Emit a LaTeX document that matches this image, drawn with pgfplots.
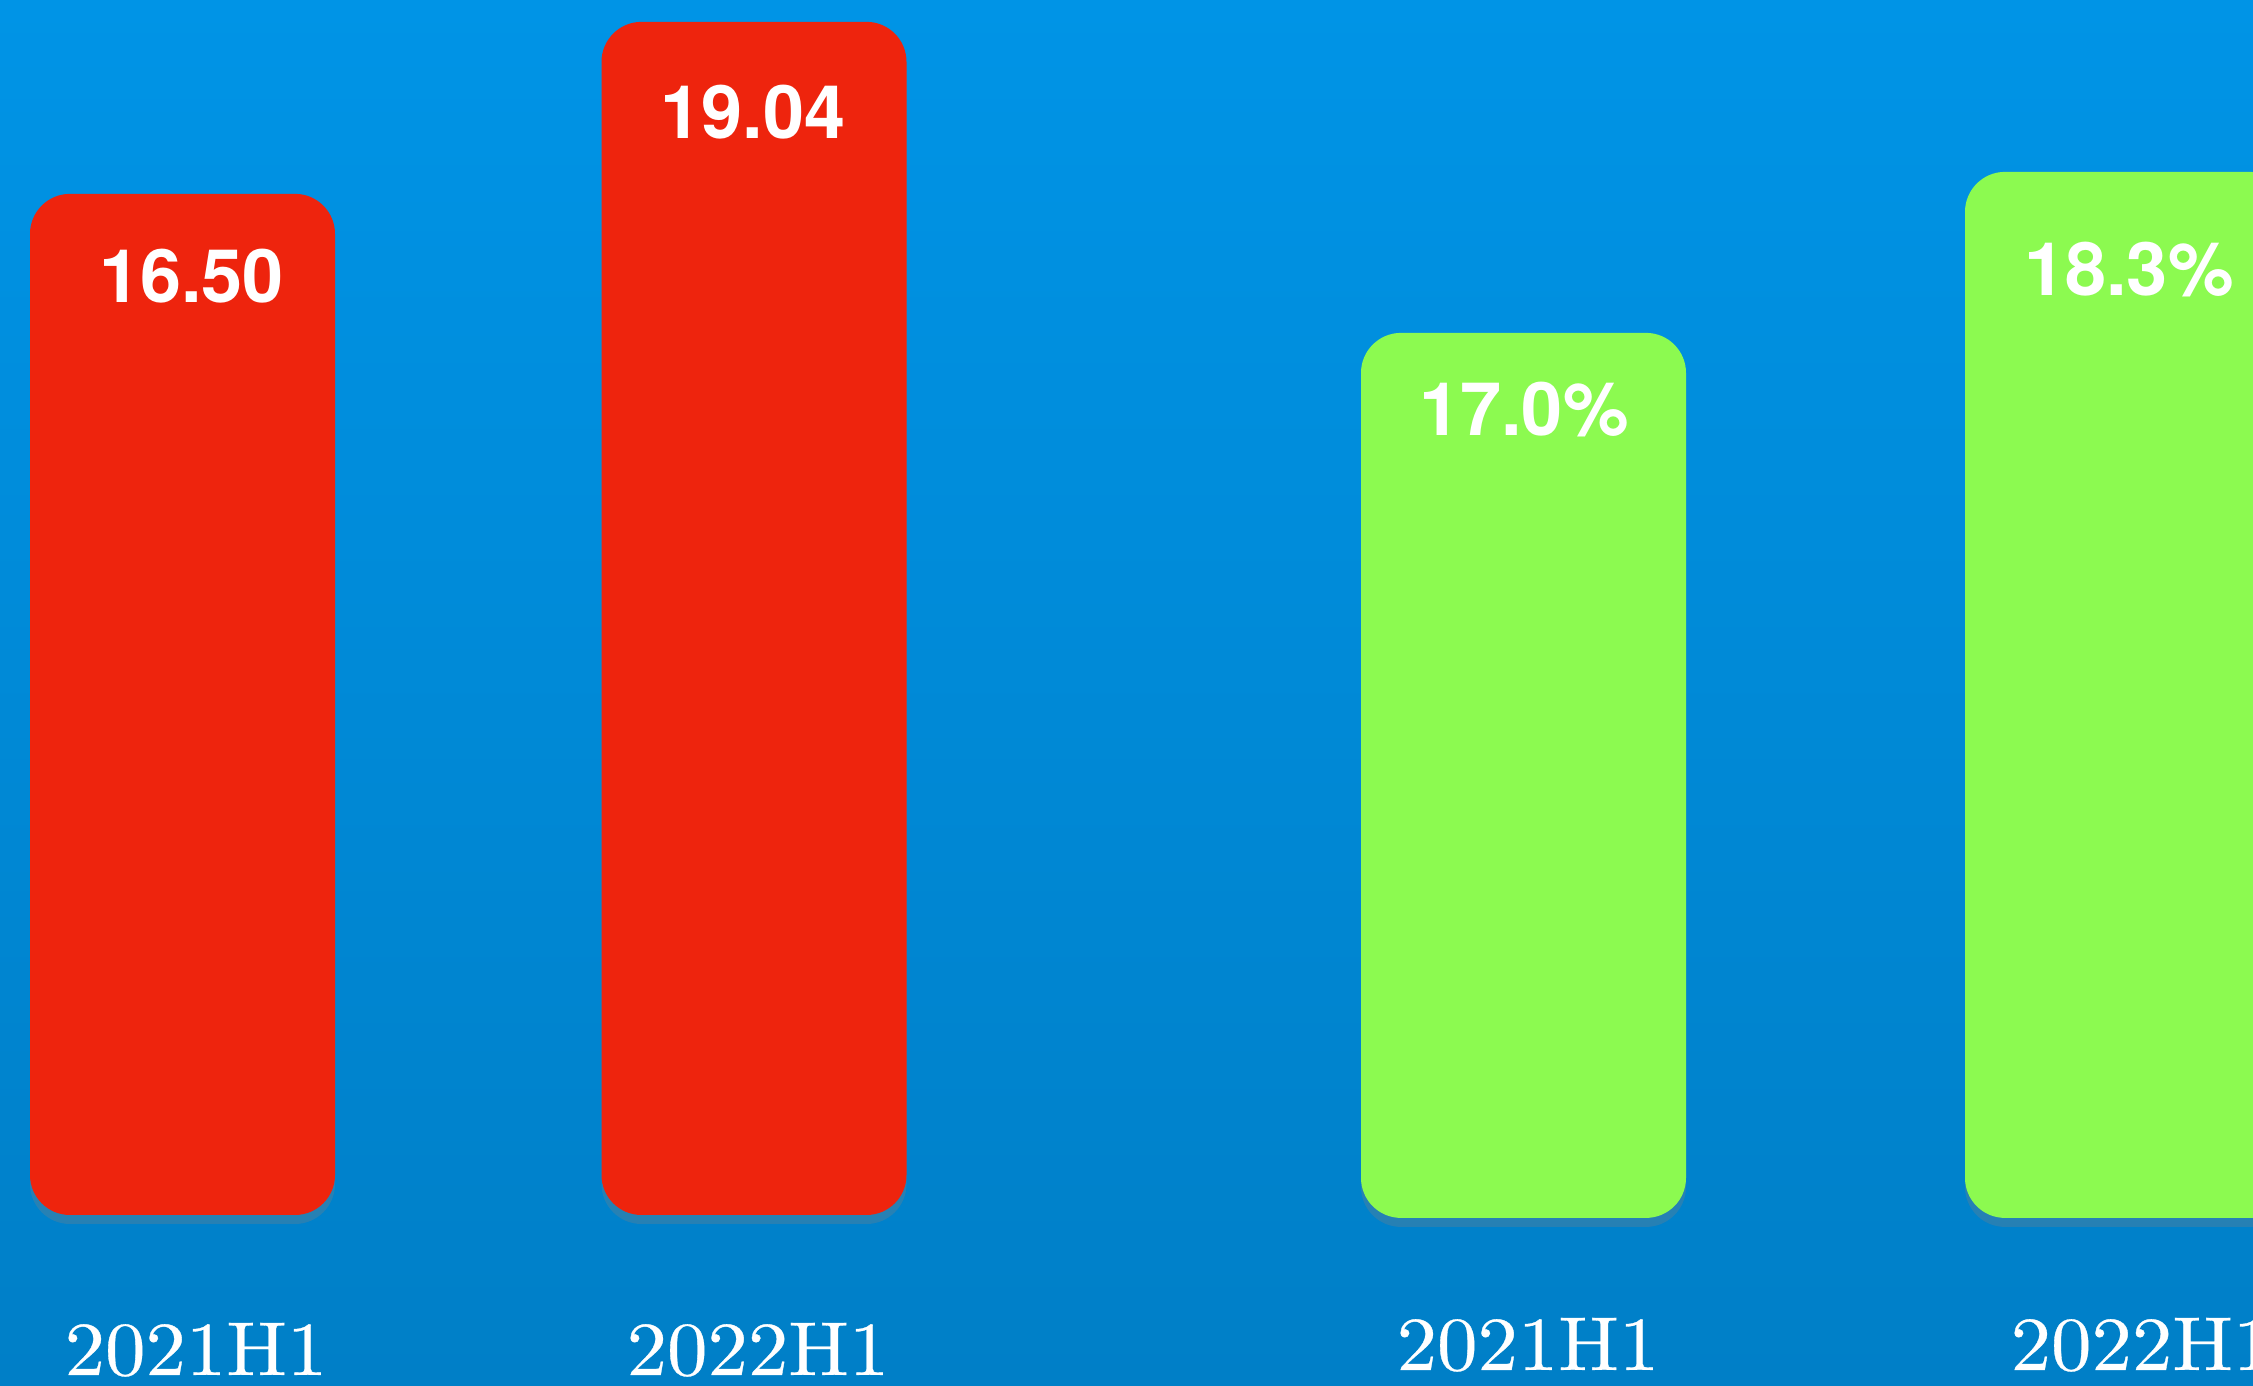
\documentclass[border=0pt]{standalone}
\usepackage{pgfplots}
\pgfplotsset{compat=1.18}
\usepackage{pgfplotstable}
\usepackage{fontspec}
\newfontfamily\lblfont{TeX Gyre Heros}
\newfontfamily\catfont[FakeBold=0.4]{lmroman10-regular.otf}
\usetikzlibrary{shadows}
\definecolor{bgtop}{RGB}{0,148,230}
\definecolor{bgbot}{RGB}{0,127,199}
\definecolor{barred}{RGB}{238,36,13}
\definecolor{bargreen}{RGB}{140,250,80}

% x: bar centre (px), v: value, base: visible bar bottom, up/dx: label offsets (cm)
\pgfplotstableread{
x      v      base   up     dx
182.5  16.50  1.422  4.015  0.09
754    19.04  1.422  4.795  -0.01
}\redtab
\pgfplotstableread{
x      v      base   up     dx
1523.5 17.0   9.854  3.395  0.005
2127.5 18.3   9.854  3.99   0.015
}\greentab

\pgfplotsset{
  common/.style={
    at={(0,0)}, anchor=south west,
    scale only axis, width=22.53cm, height=13.86cm,
    xmin=0, xmax=2253,
    axis line style={draw=none}, tick style={draw=none},
    ytick=\empty,
    xticklabel style={anchor=base, text=white, xscale=1.06, font=\catfont\fontsize{21.7}{26}\selectfont},
    ybar stacked,
    /pgf/number format/assume math mode=true,
  },
  valbar/.style={
    draw=none, rounded corners=0.4cm,
    drop shadow={shadow xshift=0pt, shadow yshift=-0.09cm, opacity=0.3},
    point meta=\thisrow{v},
    visualization depends on={\thisrow{up} \as \up},
    visualization depends on={\thisrow{dx} \as \dx},
    nodes near coords style={anchor=base, yshift=\up cm, xshift=\dx cm, text=white,
      font=\lblfont\bfseries\fontsize{21}{25}\selectfont},
  },
}

\begin{document}
\begin{tikzpicture}
\shade[top color=bgtop, bottom color=bgbot] (0,0) rectangle (22.53cm,13.86cm);
\begin{axis}[common,
  ymin=-1.103, ymax=19.363,
  xtick={196,758}, xticklabels={2021H1,2022H1},
  xticklabel style={yshift=0.11cm},
  bar width=305,
]
\addplot[draw=none, fill=none] table[x=x, y=base] \redtab;
\addplot[valbar, fill=barred,
  nodes near coords={\pgfmathprintnumber[fixed,fixed zerofill,precision=2]{\pgfplotspointmeta}},
] table[x=x, y expr=\thisrow{v}-\thisrow{base}] \redtab;
\end{axis}
\begin{axis}[common,
  ymin=8.497, ymax=19.688,
  xtick={1528,2142}, xticklabels={2021H1,2022H1},
  xticklabel style={yshift=0.16cm},
  bar width=325,
]
\addplot[draw=none, fill=none] table[x=x, y=base] \greentab;
\addplot[valbar, fill=bargreen,
  nodes near coords={\pgfmathprintnumber[fixed,fixed zerofill,precision=1]{\pgfplotspointmeta}\%},
] table[x=x, y expr=\thisrow{v}-\thisrow{base}] \greentab;
\end{axis}
\pgfresetboundingbox
\path[use as bounding box] (0,0) rectangle (22.53cm,13.86cm);
\end{tikzpicture}
\end{document}
